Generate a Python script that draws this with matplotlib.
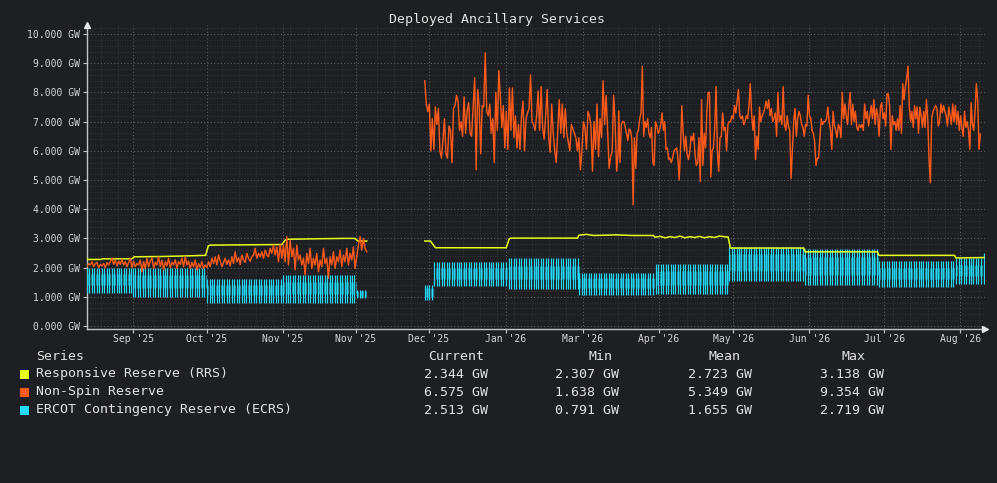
import numpy as np
import matplotlib
matplotlib.use('Agg')
import matplotlib.pyplot as plt
from matplotlib.patches import Rectangle

#-------------------------------------------------------------#
# Data (x in days from the left edge of the plot, y in GW)
#-------------------------------------------------------------#
tick_days = [18.8, 48.7, 79.6, 109.3, 139.0, 170.3, 201.6, 232.5, 262.6, 293.5, 324.0, 354.9]
tick_labels = ["Sep '25", "Oct '25", "Nov '25", "Nov '25", "Dec '25", "Jan '26",
               "Mar '26", "Apr '26", "May '26", "Jun '26", "Jul '26", "Aug '26"]

# Responsive Reserve (RRS) - step like line, nan = gap
rrs_day = [0, 5.5, 6.5, 18.3, 19.2, 30, 40, 48.2, 49.3, 50, 65, 79.2, 80.3, 81, 95, 105, 108.8,
           110.2, 113.7, np.nan,
           137.3, 139.6, 141.6, 170.4, 171.6, 172.2, 199.4, 199.9, 203, 206, 215, 222, 230.2,
           230.9, 233, 235, 237, 239, 241, 243, 245, 247, 249, 251, 253, 255, 257, 259.8,
           260.6, 261.5, 291.3, 291.9, 321.3, 321.9, 352.6, 353.2, 364.6]
rrs_gw = [2.28, 2.28, 2.30, 2.30, 2.37, 2.38, 2.40, 2.42, 2.74, 2.77, 2.78, 2.79, 2.92, 2.97, 2.99,
          3.00, 3.00, 2.91, 2.91, np.nan,
          2.91, 2.91, 2.68, 2.68, 2.98, 3.01, 3.01, 3.11, 3.138, 3.10, 3.12, 3.10, 3.10,
          3.04, 3.07, 3.02, 3.06, 3.03, 3.08, 3.02, 3.06, 3.03, 3.07, 3.02, 3.06, 3.03, 3.08, 3.05,
          3.05, 2.67, 2.67, 2.54, 2.54, 2.42, 2.42, 2.33, 2.344]

# Non-Spin Reserve, first stretch (Aug - Nov '25)
ns1_span = (0.0, 113.7)
ns1 = [2.03, 2.14, 2.09, 2.2, 2.03, 2.14, 2.18, 2.0, 2.11, 2.05, 2.14, 2.0, 2.17, 2.09, 2.2, 2.32,
       2.11, 2.26, 2.06, 2.22, 2.11, 2.29, 2.09, 2.2, 2.03, 2.18, 2.32, 2.0, 2.22, 2.03, 2.14, 2.09,
       2.26, 1.86, 2.2, 1.97, 2.32, 2.03, 2.22, 2.34, 1.97, 2.18, 2.09, 2.37, 2.03, 2.26, 1.92, 2.2,
       2.06, 2.32, 2.0, 2.18, 2.09, 2.27, 1.97, 2.2, 2.11, 2.32, 2.03, 2.37, 2.09, 2.22, 1.97, 2.18,
       2.03, 2.26, 1.92, 2.14, 2.0, 2.2, 1.97, 2.09, 2.0, 2.2, 2.03, 2.32, 2.14, 2.37, 2.09, 2.43,
       2.22, 2.03, 2.18, 2.32, 2.11, 2.26, 2.06, 2.37, 2.14, 2.54, 2.2, 2.34, 2.11, 2.43, 2.26, 2.18,
       2.49, 2.32, 2.22, 2.37, 2.43, 2.66, 2.32, 2.49, 2.37, 2.54, 2.32, 2.6, 2.43, 2.37, 2.66, 2.49,
       2.77, 2.43, 2.71, 2.2, 2.79, 2.32, 2.77, 2.2, 3.06, 2.09, 2.94, 2.37, 2.66, 1.92, 2.77, 2.26,
       2.43, 2.09, 2.32, 1.75, 2.49, 2.14, 2.66, 1.97, 2.32, 2.09, 2.49, 1.86, 2.26, 2.03, 2.66, 2.14,
       2.32, 1.64, 2.37, 2.09, 2.54, 1.97, 2.37, 2.2, 2.6, 2.03, 2.43, 2.2, 2.66, 2.09, 2.49, 2.26,
       2.71, 1.97, 2.37, 2.77, 3.06, 2.6, 3.0, 2.66, 2.54]

# Non-Spin Reserve, second stretch (Dec '25 - Aug '26), read in three pieces
ns2a_span = (137.3, 215.9)
ns2a = [8.4, 7.6, 7.35, 7.6, 6.0, 7.1, 6.05, 7.5, 6.9, 7.45, 6.0, 5.75, 6.35, 7.1, 5.9, 5.75, 6.85,
        6.7, 5.6, 7.45, 7.55, 7.9, 7.7, 6.7, 7.0, 6.5, 7.85, 6.6, 7.35, 7.65, 6.6, 6.5, 7.5, 8.5,
        5.35, 8.1, 7.5, 5.9, 7.55, 7.5, 9.354, 7.35, 7.2, 7.6, 6.6, 7.1, 5.6, 8.0, 6.7, 8.75, 7.85,
        6.8, 7.55, 6.1, 7.35, 6.05, 8.15, 6.7, 8.15, 6.45, 7.2, 6.1, 6.9, 6.05, 7.2, 7.7, 6.0, 7.1,
        7.3, 7.45, 8.6, 7.0, 6.9, 6.7, 7.2, 8.05, 6.7, 8.2, 6.8, 6.4, 7.2, 8.1, 6.45, 5.95, 7.6, 6.6,
        6.0, 5.6, 6.7, 7.75, 6.6, 7.6, 6.45, 7.45, 6.6, 6.3, 6.0, 6.9, 6.75, 6.6, 6.45, 6.0, 6.45,
        5.35, 6.0, 7.0, 6.8, 6.05, 7.35, 7.2, 6.8, 5.3, 7.0, 6.05, 7.6, 5.8, 7.1, 6.45, 8.4, 6.9,
        7.9, 6.7, 5.4, 5.8, 5.95, 7.9, 6.9, 5.3, 6.0]
ns2b_span = (216.1, 294.2)
ns2b = [7.35, 5.6, 6.9, 7.0, 7.0, 6.8, 6.6, 6.35, 6.75, 6.7, 6.4, 4.15, 6.45, 5.4, 6.6, 6.7, 7.1,
        7.3, 8.9, 6.5, 7.0, 6.8, 7.1, 6.6, 6.45, 6.8, 5.6, 5.5, 7.0, 6.85, 6.6, 6.7, 6.9, 7.3, 6.7,
        7.0, 6.05, 6.1, 5.7, 5.75, 5.6, 5.75, 6.0, 6.05, 6.1, 5.75, 5.0, 6.1, 7.55, 6.6, 6.0, 6.5,
        5.9, 5.7, 5.95, 6.5, 6.35, 6.6, 5.9, 5.5, 5.6, 6.45, 4.95, 7.75, 5.5, 6.6, 6.1, 7.35, 8.0,
        8.0, 5.1, 6.0, 6.1, 6.8, 8.2, 6.0, 5.3, 6.45, 6.5, 7.3, 6.7, 6.8, 6.0, 6.9, 7.0, 7.0, 7.2,
        7.1, 7.55, 7.3, 7.7, 8.1, 7.2, 7.1, 7.2, 6.9, 7.0, 7.2, 7.1, 7.55, 8.3, 7.3, 6.7, 7.2, 5.7,
        6.5, 6.05, 7.5, 7.0, 7.2, 7.3, 7.45, 7.7, 7.45, 7.75, 7.2, 7.45, 7.0, 7.1, 7.3, 6.5, 8.0,
        7.0, 7.2, 6.9, 8.2, 6.9, 6.7, 7.2, 6.85, 6.7, 5.05, 6.0, 7.0, 7.45, 6.5, 7.1, 7.35, 7.2,
        6.9, 6.8, 6.5, 6.9, 6.85, 7.9, 7.2, 7.1]
ns2c_span = (294.7, 363.1)
ns2c = [6.7, 6.6, 6.3, 5.5, 5.75, 5.75, 6.5, 7.1, 6.9, 7.0, 7.0, 7.1, 7.5, 7.0, 6.7, 6.05, 7.35,
        6.9, 6.7, 6.45, 6.9, 6.8, 6.45, 8.0, 7.1, 7.6, 7.2, 6.9, 7.55, 8.0, 6.9, 7.6, 7.0, 7.35, 6.8,
        6.7, 6.9, 6.8, 6.9, 6.7, 7.6, 7.1, 7.35, 6.85, 7.2, 7.55, 7.1, 7.75, 6.9, 7.45, 7.2, 6.5,
        7.5, 7.65, 7.1, 7.3, 6.85, 7.95, 7.95, 7.55, 6.05, 7.2, 6.9, 7.0, 6.7, 7.1, 6.7, 7.55, 6.6,
        8.3, 7.75, 8.2, 8.5, 8.9, 7.5, 7.0, 7.35, 6.8, 7.55, 7.1, 7.5, 6.6, 7.5, 7.2, 6.8, 7.35, 6.8,
        7.75, 7.1, 5.7, 4.9, 7.1, 7.35, 7.45, 7.55, 7.45, 6.85, 7.0, 7.6, 7.3, 7.55, 7.35, 7.2,
        6.85, 7.5, 7.2, 6.9, 7.6, 7.0, 7.55, 6.9, 7.35, 6.7, 7.2, 6.8, 6.5, 7.35, 6.8, 7.0, 6.7,
        6.05, 7.65, 6.9, 6.7, 7.35, 8.3, 7.7, 6.05, 6.575]

# ECRS - daily swings, read as blocks: daily low / high and the band it sits in most of the day
ecrs_start = [0.0, 18.7, 48.8, 79.7, 109.8, 137.2, 141.2, 171.5, 200.0, 231.2, 261.0, 291.9, 322.0, 353.3]
ecrs_end = [18.3, 48.6, 79.6, 109.4, 113.8, 141.0, 171.2, 199.7, 230.6, 260.7, 291.6, 321.7, 352.8, 364.2]
ecrs_low = [1.14, 0.98, 0.791, 0.80, 0.95, 0.90, 1.38, 1.28, 1.06, 1.09, 1.55, 1.40, 1.35, 1.44]
ecrs_high = [1.98, 2.00, 1.62, 1.74, 1.23, 1.40, 2.20, 2.32, 1.83, 2.12, 2.719, 2.63, 2.24, 2.33]
ecrs_band_lo = [1.40, 1.30, 1.05, 1.10, 1.00, 1.00, 1.62, 1.60, 1.30, 1.40, 1.90, 1.75, 1.60, 1.70]
ecrs_band_hi = [1.78, 1.75, 1.42, 1.52, 1.20, 1.30, 2.00, 2.05, 1.65, 1.88, 2.45, 2.35, 2.00, 2.10]
ecrs_last = 2.513

# legend table
series_names = ["Responsive Reserve (RRS)", "Non-Spin Reserve", "ERCOT Contingency Reserve (ECRS)"]
stat_cols = ["Current", "Min", "Mean", "Max"]
stat_vals = [[2.344, 2.307, 2.723, 3.138],
             [6.575, 1.638, 5.349, 9.354],
             [2.513, 0.791, 1.655, 2.719]]

#-------------------------------------------------------------#
# Style
#-------------------------------------------------------------#
bg = '#1e1f22'
c_rrs = '#e4ff1c'
c_ns = '#ff5a1a'
c_ecrs = '#22dcff'
txt = '#d6d6d6'
W, H = 997, 483
mono = 'DejaVu Sans Mono'

fig = plt.figure(figsize=(W / 100, H / 100), dpi=100, facecolor=bg)
ax = fig.add_axes([87 / W, 1 - 328.5 / H, (985 - 87) / W, (328.5 - 25) / H])
ax.set_facecolor(bg)

#-------------------------------------------------------------#
# Plotting
#-------------------------------------------------------------#
for i in range(len(ecrs_start)):
    d = np.arange(ecrs_start[i], ecrs_end[i], 1.0)
    ax.vlines(d, ecrs_low[i], ecrs_high[i], color=c_ecrs, lw=0.85, zorder=3)
    ax.vlines(d + 0.5, ecrs_band_lo[i], ecrs_band_hi[i], color=c_ecrs, lw=0.9, alpha=0.5, zorder=3)
ax.vlines([ecrs_end[-1] + 0.4], ecrs_low[-1], ecrs_last, color=c_ecrs, lw=0.9, zorder=3)

ax.plot(rrs_day, rrs_gw, color=c_rrs, lw=1.1, zorder=4)

for span, vals in [(ns1_span, ns1), (ns2a_span, ns2a), (ns2b_span, ns2b), (ns2c_span, ns2c)]:
    x = np.linspace(span[0], span[1], len(vals))
    ax.plot(x, vals, color=c_ns, lw=1.0, zorder=5)

# join the three pieces of the second stretch
ax.plot([ns2a_span[1], ns2b_span[0]], [ns2a[-1], ns2b[0]], color=c_ns, lw=1.0, zorder=5)
ax.plot([ns2b_span[1], ns2c_span[0]], [ns2b[-1], ns2c[0]], color=c_ns, lw=1.0, zorder=5)

#-------------------------------------------------------------#
# Axes, grid, ticks
#-------------------------------------------------------------#
ax.set_xlim(0, 365)
ax.set_ylim(-0.086, 10.31)

ax.set_xticks(tick_days)
ax.set_xticklabels(tick_labels)
minor_x = [d for d in np.arange(5.7, 365, 7.0) if min(abs(d - t) for t in tick_days) > 2.5]
ax.set_xticks(minor_x, minor=True)
ax.set_yticks(np.arange(0, 11, 1))
ax.set_yticklabels(['%.3f GW' % v for v in range(11)])
ax.set_yticks(np.arange(0, 10.3, 0.2), minor=True)

ax.grid(which='major', color='#5c5c5e', linestyle=(0, (1, 2)), lw=0.8)
ax.grid(which='minor', color='#3a3b3e', linestyle=(0, (1, 2)), lw=0.6)
ax.set_axisbelow(True)

for sp in ['top', 'right']:
    ax.spines[sp].set_visible(False)
for sp in ['left', 'bottom']:
    ax.spines[sp].set_color('#c4c4c4')
    ax.spines[sp].set_linewidth(1.0)

ax.tick_params(which='major', colors='#c4c4c4', labelcolor=txt, labelsize=7, length=3, width=0.8, pad=2)
ax.tick_params(axis='x', which='major', pad=1)
ax.tick_params(which='minor', length=0)
for lab in ax.get_xticklabels() + ax.get_yticklabels():
    lab.set_family(mono)

# axis arrows
ax.plot([0], [1], marker='^', ms=5, color='#e6e6e6', transform=ax.transAxes, clip_on=False, zorder=6)
ax.plot([1], [0], marker='>', ms=5, color='#e6e6e6', transform=ax.transAxes, clip_on=False, zorder=6)

fig.text(497 / W, 1 - 19 / H, 'Deployed Ancillary Services', ha='center', va='center',
         color='#e2e2e2', fontsize=9.5, family=mono)

#-------------------------------------------------------------#
# Legend table
#-------------------------------------------------------------#
hdr_x = [456, 600, 724, 853]
val_x = [456, 587, 720, 852]
row_y = [374, 392, 410]
colors = [c_rrs, c_ns, c_ecrs]

fig.text(36 / W, 1 - 356 / H, 'Series', ha='left', va='center', color='#e2e2e2', fontsize=9.5, family=mono)
for cx, name in zip(hdr_x, stat_cols):
    fig.text(cx / W, 1 - 356 / H, name, ha='center', va='center', color='#e2e2e2', fontsize=9.5, family=mono)

for i in range(3):
    y = row_y[i]
    fig.add_artist(Rectangle((20 / W, 1 - (y + 4.5) / H), 9 / W, 9 / H, transform=fig.transFigure,
                             facecolor=colors[i], edgecolor='none'))
    fig.text(36 / W, 1 - y / H, series_names[i], ha='left', va='center', color='#e2e2e2',
             fontsize=9.5, family=mono)
    for cx, v in zip(val_x, stat_vals[i]):
        fig.text(cx / W, 1 - y / H, '%.3f GW' % v, ha='center', va='center', color='#e2e2e2',
                 fontsize=9.5, family=mono)

fig.savefig('out.png', dpi=100, facecolor=bg)
